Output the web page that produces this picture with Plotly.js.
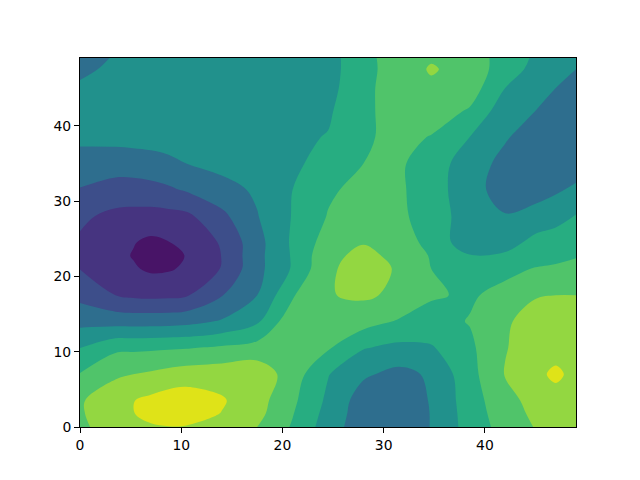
<!DOCTYPE html>
<html>
<head>
<meta charset="utf-8">
<script src="https://cdn.plot.ly/plotly-3.0.1.min.js"></script>
<style>html,body{margin:0;padding:0;background:#fff}</style>
</head>
<body>
<div id="chart" style="width:640px;height:480px"></div>
<script>
var xGrid = [0,3.5,5.25,7,8.75,10.5,14,17.5,21,24.5,28,31.5,34.7,38.5,42,45,47,49];
var yGrid = [0,1.75,3.5,7,10.5,14,17.5,21,22.75,24.5,28,31.5,35,38.5,42,45,47.5,49];
var row00 = [6.8,7.5,7.75,7.9,7.97,7.95,7.7,7.0,5.9,4.5,3.4,3.1,4.05,5.4,6.4,7.05,7.3,7.5];
var row01 = [6.9,7.6,7.97,8.25,8.45,8.4,7.97,7.3,6.05,4.65,3.45,3.1,4.05,5.45,6.55,7.2,7.5,7.6];
var row02 = [6.9,7.6,7.97,8.25,8.5,8.55,8.1,7.4,6.2,4.8,3.5,3.1,4.1,5.5,6.7,7.3,7.6,7.7];
var row03 = [6.05,6.85,7.0,7.15,7.35,7.5,7.6,7.65,6.5,5.05,4.15,3.7,4.15,5.65,7.05,7.75,8.2,7.7];
var row04 = [5.0,5.8,5.82,5.85,5.9,5.95,6.15,6.4,6.4,6.1,5.05,4.75,4.9,5.8,6.95,7.45,7.6,7.45];
var row05 = [3.7,3.6,3.58,3.6,3.62,3.7,4.1,4.85,6.7,6.7,6.4,5.9,5.65,6.05,6.9,7.3,7.45,7.3];
var row06 = [2.7,2.0,1.82,1.75,1.78,1.9,2.95,4.0,5.9,6.95,7.15,6.8,6.1,5.88,6.3,6.95,7.0,7.0];
var row07 = [1.98,1.25,1.1,0.85,0.9,1.15,2.05,3.7,5.1,6.85,7.4,6.9,6.0,5.3,5.75,6.05,6.15,6.3];
var row08 = [1.9,1.25,0.95,0.7,0.75,1.03,2.02,3.7,5.1,6.75,7.25,6.75,5.92,5.05,5.15,5.65,5.75,5.93];
var row09 = [1.85,1.3,1.05,0.8,0.97,1.25,2.1,3.65,5.15,6.45,6.95,6.65,5.6,4.45,4.6,5.3,5.4,5.5];
var row10 = [2.2,1.72,1.66,1.62,1.68,1.78,2.75,3.95,5.05,6.05,6.5,6.2,5.55,4.5,4.05,4.4,4.7,5.05];
var row11 = [2.95,2.65,2.62,2.7,2.85,3.1,3.65,4.15,5.0,5.85,6.3,6.15,5.5,4.35,3.6,3.55,3.85,4.2];
var row12 = [3.55,3.4,3.45,3.55,3.75,4.0,4.3,4.55,4.85,5.3,6.0,6.15,5.5,4.5,3.7,3.3,3.3,3.45];
var row13 = [4.25,4.35,4.4,4.45,4.5,4.5,4.6,4.7,4.8,5.05,5.85,6.3,5.95,5.0,4.1,3.5,3.2,3.15];
var row14 = [4.4,4.45,4.48,4.5,4.53,4.55,4.6,4.7,4.8,4.85,5.85,6.3,6.5,5.9,4.4,4.0,3.55,3.3];
var row15 = [4.15,4.4,4.46,4.5,4.53,4.55,4.6,4.65,4.7,4.65,5.8,6.4,6.8,6.5,5.0,4.35,4.0,3.6];
var row16 = [3.8,4.2,4.38,4.5,4.53,4.55,4.6,4.65,4.65,4.6,5.7,6.45,7.1,6.6,5.5,4.7,4.3,4.0];
var row17 = [3.5,4.1,4.32,4.5,4.53,4.55,4.6,4.65,4.65,4.6,5.7,6.5,6.9,6.5,5.6,4.85,4.6,4.3];
var zRows = [row00,row01,row02,row03,row04,row05,row06,row07,row08,row09,row10,row11,row12,row13,row14,row15,row16,row17];
var bandColors = ['#481467','#463480','#3d4e8a','#2e6e8e','#21918c','#27ad81','#50c46a','#93d741','#dfe318'];
var tickVals = [0,10,20,30,40];

var scale = bandColors.map(function(c,i){return [i/(bandColors.length-1),c];});
var axisBase = {
  range:[0,49], tickvals:tickVals, ticktext:tickVals.map(String),
  ticks:'outside', ticklen:5, tickwidth:1, tickcolor:'#000',
  showline:true, mirror:true, linecolor:'#000', linewidth:1,
  showgrid:false, zeroline:false,
  tickfont:{family:'DejaVu Sans', size:13.9, color:'#000'}
};
Plotly.newPlot('chart',[{
  type:'contour', x:xGrid, y:yGrid, z:zRows,
  autocontour:false,
  contours:{start:1,end:8,size:1,coloring:'fill',showlines:false},
  line:{width:0,smoothing:1},
  colorscale:scale, showscale:false, hoverinfo:'skip'
}],{
  width:640,height:480,
  margin:{l:80,r:64,t:58,b:53,pad:0},
  paper_bgcolor:'#fff',plot_bgcolor:'#fff',
  showlegend:false,
  xaxis:Object.assign({},axisBase),
  yaxis:Object.assign({},axisBase)
},{displayModeBar:false,staticPlot:true});
</script>
</body>
</html>
